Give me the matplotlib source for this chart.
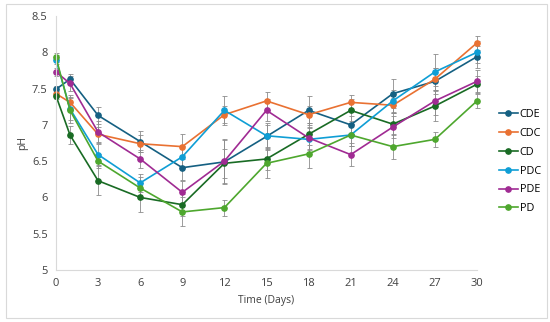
import matplotlib.pyplot as plt
from matplotlib.patches import Rectangle

plt.rcParams['font.family'] = ['Open Sans', 'DejaVu Sans']

# -------------------------
# Data (pH over storage time)
# -------------------------
days = [0, 1, 3, 6, 9, 12, 15, 18, 21, 24, 27, 30]

cde = [7.49, 7.63, 7.13, 6.77, 6.41, 6.49, 6.84, 7.20, 7.00, 7.43, 7.60, 7.94]
cdc = [7.43, 7.31, 6.87, 6.74, 6.70, 7.14, 7.33, 7.14, 7.31, 7.27, 7.63, 8.13]
cd = [7.40, 6.86, 6.23, 6.00, 5.90, 6.47, 6.53, 6.87, 7.20, 7.01, 7.26, 7.56]
pdc = [7.90, 7.22, 6.59, 6.20, 6.56, 7.20, 6.85, 6.80, 6.86, 7.33, 7.73, 8.00]
pde = [7.73, 7.57, 6.90, 6.53, 6.07, 6.50, 7.20, 6.82, 6.59, 6.97, 7.33, 7.60]
pd_ = [7.93, 7.20, 6.50, 6.13, 5.80, 5.86, 6.47, 6.60, 6.86, 6.70, 6.80, 7.33]

cde_err = [0.05, 0.07, 0.12, 0.15, 0.17, 0.30, 0.18, 0.20, 0.12, 0.20, 0.18, 0.15]
cdc_err = [0.04, 0.10, 0.10, 0.12, 0.17, 0.12, 0.12, 0.12, 0.10, 0.10, 0.15, 0.10]
cd_err = [0.05, 0.12, 0.20, 0.20, 0.15, 0.20, 0.15, 0.15, 0.15, 0.15, 0.20, 0.12]
pdc_err = [0.06, 0.15, 0.15, 0.12, 0.15, 0.20, 0.15, 0.15, 0.15, 0.15, 0.25, 0.15]
pde_err = [0.05, 0.10, 0.15, 0.12, 0.15, 0.30, 0.15, 0.15, 0.16, 0.15, 0.20, 0.15]
pd_err = [0.06, 0.18, 0.10, 0.15, 0.20, 0.11, 0.20, 0.20, 0.15, 0.17, 0.10, 0.10]

labels = ["CDE", "CDC", "CD", "PDC", "PDE", "PD"]
colors = ["#156082", "#E97132", "#196B24", "#0F9ED5", "#A02B93", "#4EA72E"]
series = [cde, cdc, cd, pdc, pde, pd_]
errors = [cde_err, cdc_err, cd_err, pdc_err, pde_err, pd_err]

# -------------------------
# Plot
# -------------------------
fig = plt.figure(figsize=(5.5, 3.22), dpi=100)
ax = fig.add_axes([0.1018, 0.1615, 0.7655, 0.7888])

for vals, errs, lab, col in zip(series, errors, labels, colors):
    ax.errorbar(days, vals, yerr=errs, fmt="none", ecolor="#8c8c8c",
                elinewidth=0.6, capsize=1.8, capthick=0.6, zorder=1,
                clip_on=False)
    ax.plot(days, vals, color=col, marker="o", markersize=3.8,
            linewidth=1.2, label=lab, zorder=2, clip_on=False)

ax.set_xlim(0, 30)
ax.set_ylim(5, 8.5)
ax.set_xticks(range(0, 31, 3))
ax.set_yticks([5, 5.5, 6, 6.5, 7, 7.5, 8, 8.5])
ax.set_yticklabels(["5", "5.5", "6", "6.5", "7", "7.5", "8", "8.5"])

for side in ["top", "right"]:
    ax.spines[side].set_visible(False)
ax.spines["left"].set_color("#d9d9d9")
ax.spines["bottom"].set_color("#d9d9d9")
ax.tick_params(length=0, labelsize=8, colors="#404040", pad=6)

ax.set_xlabel("Time (Days)", fontsize=7.5, color="#404040", labelpad=4)
ax.set_ylabel("pH", fontsize=7.5, color="#404040", labelpad=3)

ax.legend(loc="center left", bbox_to_anchor=(0.89, 0.498),
          bbox_transform=fig.transFigure, frameon=False, fontsize=7.8,
          handlelength=1.7, handletextpad=0.2, labelspacing=0.72)

# outer chart border
fig.patches.append(Rectangle((0.011, 0.012), 0.984, 0.975,
                             transform=fig.transFigure, fill=False,
                             edgecolor="#d9d9d9", linewidth=0.8))

fig.savefig("out.png", dpi=100)
